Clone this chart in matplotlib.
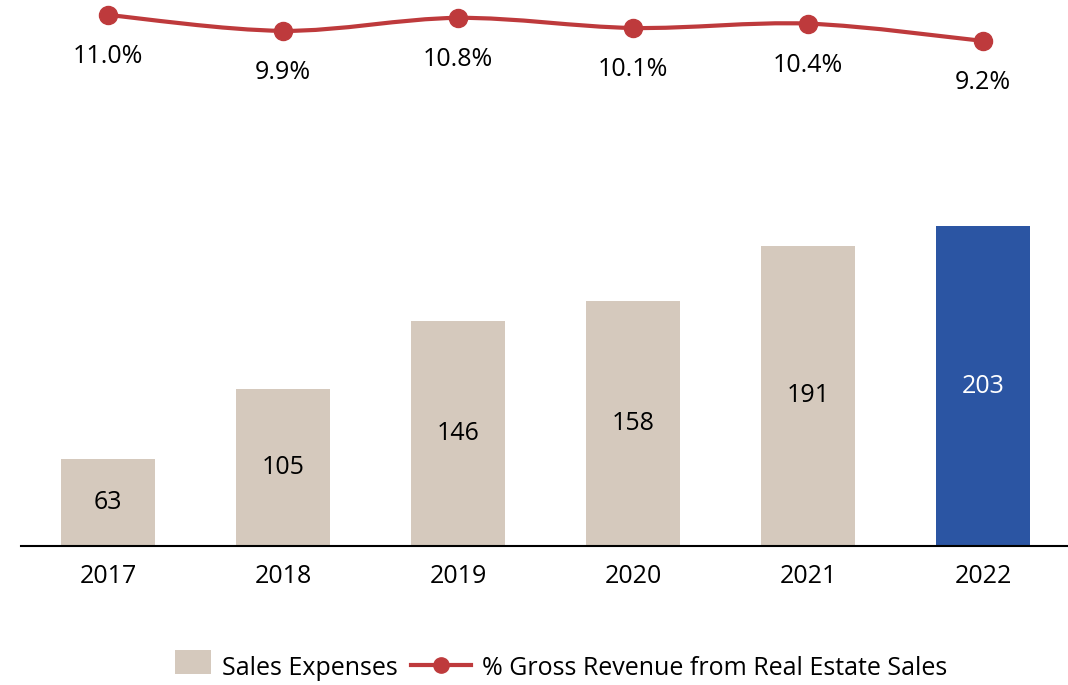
import numpy as np
import matplotlib
matplotlib.use("Agg")
import matplotlib.pyplot as plt
from matplotlib.path import Path
from matplotlib.patches import PathPatch, Patch, Rectangle
from matplotlib.lines import Line2D
from matplotlib.legend_handler import HandlerPatch

plt.rcParams['font.family'] = ['Open Sans', 'DejaVu Sans']

years = ['2017', '2018', '2019', '2020', '2021', '2022']
sales_expenses = [63, 105, 146, 158, 191, 203]
pct_gross = [11.0, 9.9, 10.8, 10.1, 10.4, 9.2]

beige = '#D5C9BD'
blue = '#2B55A3'
red = '#BE3A3C'
fs = 18

fig = plt.figure(figsize=(10.68, 6.85), dpi=100)
W, H = 1068, 685

# bar axes
ax = fig.add_axes([20.5 / W, 1 - 546 / H, 1050 / W, 446 / H])
x = np.arange(len(years))
colors = [beige] * 5 + [blue]
bars = ax.bar(x, sales_expenses, width=0.54, color=colors, zorder=2)
ax.set_xlim(-0.5, 5.5)
ax.set_ylim(10.7, 10.7 + 446 / 1.664)
for b, v, c in zip(bars, sales_expenses, colors):
    ax.text(b.get_x() + b.get_width() / 2, (10.7 + v) / 2, str(v),
            ha='center', va='center', fontsize=fs,
            color='white' if c == blue else 'black')
for s in ['top', 'right', 'left']:
    ax.spines[s].set_visible(False)
ax.spines['bottom'].set_linewidth(1.5)
ax.set_yticks([])
ax.set_xticks(x)
ax.set_xticklabels(years, fontsize=fs)
ax.tick_params(axis='x', length=0, pad=13)

# line axes (top)
lax = fig.add_axes([20.5 / W, 1 - 110 / H, 1050 / W, 110 / H])
lax.set_xlim(-0.5, 5.5)
top = 11.0 + 15 / 14.4
lax.set_ylim(top - 110 / 14.4, top)
lax.axis('off')

# smooth curve (Catmull-Rom as bezier)
pts = np.column_stack([x, pct_gross]).astype(float)
verts = [tuple(pts[0])]
codes = [Path.MOVETO]
n = len(pts)
for i in range(n - 1):
    p0 = pts[i - 1] if i > 0 else pts[i]
    p1 = pts[i]
    p2 = pts[i + 1]
    p3 = pts[i + 2] if i + 2 < n else pts[i + 1]
    c1 = p1 + (p2 - p0) / 6
    c2 = p2 - (p3 - p1) / 6
    verts += [tuple(c1), tuple(c2), tuple(p2)]
    codes += [Path.CURVE4] * 3
lax.add_patch(PathPatch(Path(verts, codes), facecolor='none', edgecolor=red,
                        lw=3, clip_on=False, zorder=2))
lax.plot(x, pct_gross, 'o', color=red, ms=13, clip_on=False, zorder=3)
for xi, v in zip(x, pct_gross):
    lax.annotate(f'{v:.1f}%', (xi, v), xytext=(0, -30), textcoords='offset points',
                 ha='center', va='center', fontsize=fs, annotation_clip=False)


def square_patch(legend, orig_handle, xdescent, ydescent, width, height, fontsize):
    w = width * 0.6
    return Rectangle((xdescent + width - w, ydescent - height * 0.1), w, height * 1.1)


handles = [Patch(facecolor=beige, edgecolor='none'),
           Line2D([0], [0], color=red, lw=3, marker='o', ms=11)]
fig.legend(handles, ['Sales Expenses', '% Gross Revenue from Real Estate Sales'],
           loc='center', bbox_to_anchor=(549 / W, 1 - 668 / H), ncol=2,
           frameon=False, fontsize=fs, handlelength=2.4, handleheight=1.0,
           columnspacing=0.5, handletextpad=0.45,
           handler_map={Patch: HandlerPatch(patch_func=square_patch)})

fig.savefig('out.png', dpi=100)
